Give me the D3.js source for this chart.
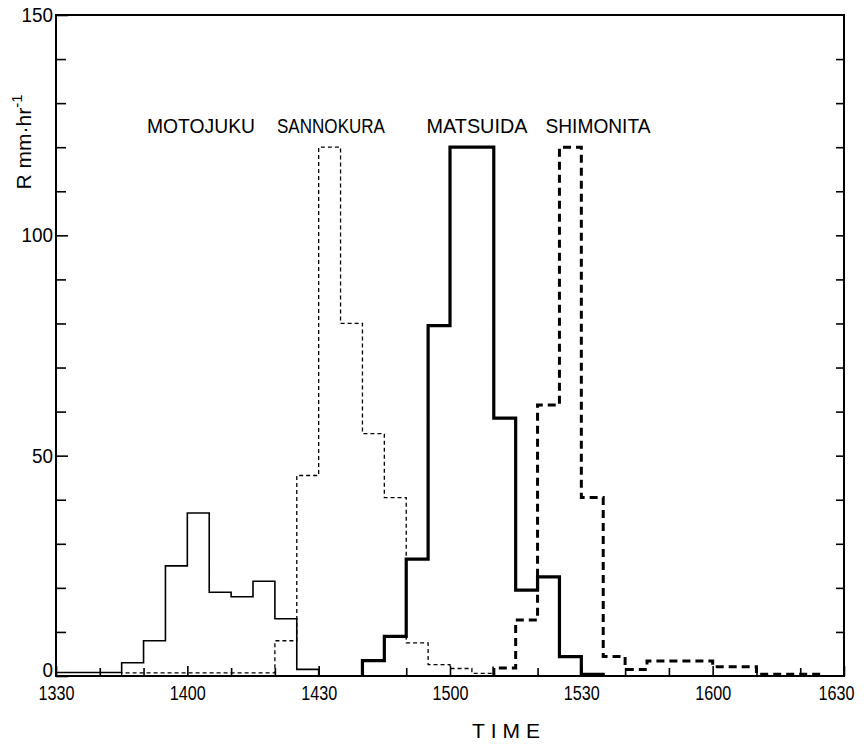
<!DOCTYPE html>
<html>
<head>
<meta charset="utf-8">
<script src="https://cdn.jsdelivr.net/npm/d3@7"></script>
<style>
  html, body { margin: 0; padding: 0; background: #fff; }
  svg { display: block; }
  text { font-family: "Liberation Sans", "DejaVu Sans", sans-serif; fill: #000; }
</style>
</head>
<body>
<svg id="chart" width="864" height="745"></svg>
<script>
// ---------- data (5-minute rainfall intensity, R mm/hr) ----------
// bin start times are minutes after 13:30
const xTickLabels = ["1330", "1400", "1430", "1500", "1530", "1600", "1630"];
const yTickLabels = [0, 50, 100, 150];
const stations = ["MOTOJUKU", "SANNOKURA", "MATSUIDA", "SHIMONITA"];

const motojukuStart = 0;   // 13:30
const motojukuValues = [0.8, 0.8, 0.8, 3, 8, 25, 37, 19, 18, 21.5, 13, 1.5];

const sannokuraStart = 15; // 13:45
const sannokuraValues = [0.7, 0.7, 0.7, 0.7, 0.7, 0.7, 0.7, 8, 45.5, 120, 80, 55, 40.5, 7.5, 2.6, 1.7, 0.6];

const matsuidaStart = 70;  // 14:40
const matsuidaValues = [3.5, 9, 26.5, 79.5, 120, 120, 58.5, 19.5, 22.5, 4.4, 0.4];

const shimonitaStart = 100; // 15:10
const shimonitaValues = [1.8, 12.7, 61.5, 120, 40.5, 4.4, 1.5, 3.4, 3.4, 3.4, 2.1, 2.1, 0.4, 0.4, 0.4];

const binMinutes = 5;

// ---------- layout ----------
const svg = d3.select("#chart");
const mLeft = 56, mRight = 844, mTop = 15, mBottom = 676;

const x = d3.scaleLinear().domain([0, 180]).range([mLeft, mRight]);
const y = d3.scaleLinear().domain([0, 150]).range([mBottom, mTop]);

// frame
svg.append("rect")
  .attr("x", mLeft).attr("y", mTop)
  .attr("width", mRight - mLeft).attr("height", mBottom - mTop)
  .attr("fill", "none").attr("stroke", "#000").attr("stroke-width", 2);

// x axis (ticks inward, every 10 minutes, labels every 30)
const xLabelMap = {};
xTickLabels.forEach((lab, i) => { xLabelMap[i * 30] = lab; });
const xAxis = svg.append("g")
  .attr("transform", `translate(0,${mBottom})`)
  .call(d3.axisBottom(x)
    .tickValues(d3.range(0, 181, 10))
    .tickSize(-8)
    .tickPadding(10)
    .tickFormat(d => xLabelMap[d] !== undefined ? xLabelMap[d] : ""));
xAxis.select(".domain").remove();
xAxis.selectAll(".tick line")
  .attr("stroke", "#000").attr("stroke-width", 1.6)
  .attr("y2", d => d % 30 === 0 ? -10 : -8);
xAxis.selectAll(".tick text")
  .attr("font-size", 20)
  .attr("x", d => d === 180 ? -8 : 0)
  .attr("textLength", d => xLabelMap[d] !== undefined ? 36 : null)
  .attr("lengthAdjust", "spacingAndGlyphs");

// left y axis
const yAxis = svg.append("g")
  .attr("transform", `translate(${mLeft},0)`)
  .call(d3.axisLeft(y)
    .tickValues(d3.range(0, 151, 10))
    .tickSize(-11)
    .tickPadding(3)
    .tickFormat(d => yTickLabels.includes(d) ? String(d) : ""));
yAxis.select(".domain").remove();
yAxis.selectAll(".tick line")
  .attr("stroke", "#000").attr("stroke-width", 1.6)
  .attr("x2", d => d % 50 === 0 ? 12 : 10);
yAxis.selectAll(".tick text")
  .attr("font-size", 20)
  .attr("y", d => d === 0 ? -6 : 0)
  .attr("textLength", d => yTickLabels.includes(d) ? (String(d).length * 10.5) : null)
  .attr("lengthAdjust", "spacingAndGlyphs");

// right y axis (ticks only)
const yAxisR = svg.append("g")
  .attr("transform", `translate(${mRight},0)`)
  .call(d3.axisRight(y)
    .tickValues(d3.range(10, 150, 10))
    .tickSize(-8)
    .tickFormat(""));
yAxisR.select(".domain").remove();
yAxisR.selectAll(".tick line").attr("stroke", "#000").attr("stroke-width", 1.6);

// ---------- step series ----------
function stepPoints(start, values) {
  const pts = [{ t: start, v: 0 }];
  values.forEach((v, i) => pts.push({ t: start + i * binMinutes, v }));
  const end = start + values.length * binMinutes;
  pts.push({ t: end, v: values[values.length - 1] });
  pts.push({ t: end, v: 0 });
  return pts;
}
const line = d3.line().x(d => x(d.t)).y(d => y(d.v)).curve(d3.curveStepAfter);

const series = [
  { start: motojukuStart, values: motojukuValues, width: 1.6, dash: null },
  { start: sannokuraStart, values: sannokuraValues, width: 1.3, dash: "4,3" },
  { start: matsuidaStart, values: matsuidaValues, width: 3.2, dash: null },
  { start: shimonitaStart, values: shimonitaValues, width: 3, dash: "8,5" }
];
series.forEach(s => {
  svg.append("path")
    .attr("d", line(stepPoints(s.start, s.values)))
    .attr("fill", "none")
    .attr("stroke", "#000")
    .attr("stroke-width", s.width)
    .attr("stroke-dasharray", s.dash)
    .attr("stroke-linejoin", "miter");
});

// ---------- station labels ----------
const labelPos = [
  { cx: 201, len: 108 },
  { cx: 331, len: 108 },
  { cx: 477, len: 101 },
  { cx: 598, len: 105 }
];
stations.forEach((name, i) => {
  svg.append("text")
    .attr("x", labelPos[i].cx).attr("y", 133)
    .attr("text-anchor", "middle")
    .attr("font-size", 21)
    .attr("textLength", labelPos[i].len)
    .attr("lengthAdjust", "spacingAndGlyphs")
    .text(name);
});

// ---------- axis titles ----------
const yTitle = svg.append("text")
  .attr("transform", "translate(31,142) rotate(-90)")
  .attr("text-anchor", "middle")
  .attr("font-size", 21);
yTitle.append("tspan").text("R  mm·hr");
yTitle.append("tspan").attr("font-size", 15).attr("dy", -9).text("-1");

svg.append("text")
  .attr("x", 506).attr("y", 738)
  .attr("text-anchor", "middle")
  .attr("font-size", 21)
  .attr("textLength", 68)
  .attr("lengthAdjust", "spacing")
  .text("TIME");
</script>
</body>
</html>
